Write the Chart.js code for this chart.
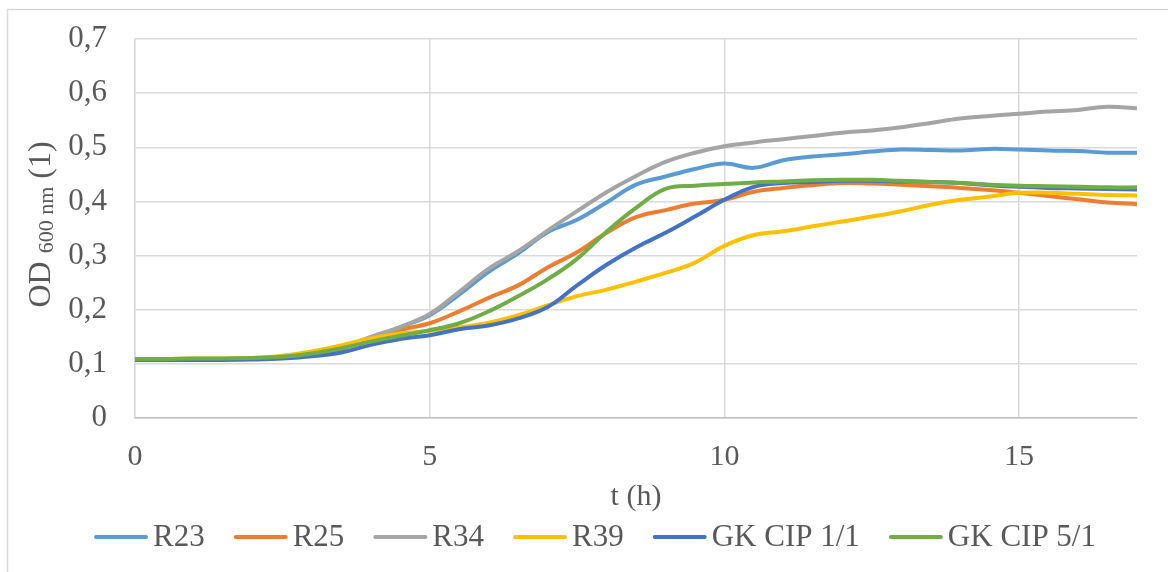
<!DOCTYPE html>
<html>
<head>
<meta charset="utf-8">
<script src="https://cdn.jsdelivr.net/npm/chart.js@4"></script>
<style>
  html, body { margin: 0; padding: 0; background: #fff; }
  #wrap { width: 1168px; height: 572px; }
</style>
</head>
<body>
<div id="wrap"><canvas id="growthChart" width="1168" height="572"></canvas></div>
<script>
// time points (h)
const timeH = [0, 0.5, 1, 1.5, 2, 2.5, 3, 3.5, 4, 4.5, 5, 5.5, 6, 6.5, 7, 7.5, 8, 8.5,
    9, 9.5, 10, 10.5, 11, 11.5, 12, 12.5, 13, 13.5, 14, 14.5, 15, 15.5, 16, 16.5, 17];

// OD600 readings per strain
const r23 = [0.108, 0.108, 0.109, 0.109, 0.110, 0.112, 0.118, 0.128, 0.148, 0.168, 0.190, 0.228,
    0.270, 0.304, 0.343, 0.366, 0.398, 0.431, 0.446, 0.460, 0.470, 0.462, 0.476, 0.483, 0.487,
    0.492, 0.496, 0.495, 0.494, 0.497, 0.496, 0.494, 0.493, 0.490, 0.490];
const r25 = [0.108, 0.108, 0.109, 0.109, 0.110, 0.112, 0.118, 0.128, 0.146, 0.163, 0.175, 0.197,
    0.222, 0.245, 0.278, 0.306, 0.342, 0.371, 0.384, 0.396, 0.403, 0.418, 0.425, 0.430, 0.434,
    0.433, 0.431, 0.428, 0.425, 0.421, 0.416, 0.410, 0.404, 0.398, 0.395];
const r34 = [0.108, 0.108, 0.109, 0.109, 0.110, 0.112, 0.118, 0.130, 0.150, 0.168, 0.192, 0.233,
    0.276, 0.308, 0.346, 0.382, 0.417, 0.447, 0.473, 0.490, 0.502, 0.509, 0.515, 0.521, 0.527,
    0.531, 0.537, 0.545, 0.553, 0.558, 0.562, 0.566, 0.569, 0.575, 0.572];
const r39 = [0.109, 0.109, 0.110, 0.110, 0.111, 0.115, 0.123, 0.134, 0.147, 0.156, 0.161, 0.167,
    0.176, 0.190, 0.208, 0.225, 0.237, 0.252, 0.268, 0.287, 0.318, 0.338, 0.345, 0.354, 0.363,
    0.372, 0.382, 0.394, 0.403, 0.409, 0.416, 0.416, 0.414, 0.412, 0.411];
const gkCip11 = [0.107, 0.107, 0.107, 0.107, 0.108, 0.110, 0.114, 0.121, 0.135, 0.146, 0.153, 0.164,
    0.171, 0.184, 0.205, 0.245, 0.283, 0.315, 0.342, 0.372, 0.403, 0.427, 0.434, 0.436, 0.438,
    0.438, 0.437, 0.436, 0.434, 0.430, 0.427, 0.425, 0.424, 0.423, 0.422];
const gkCip51 = [0.109, 0.109, 0.110, 0.110, 0.111, 0.113, 0.119, 0.129, 0.141, 0.152, 0.162, 0.175,
    0.197, 0.225, 0.256, 0.294, 0.344, 0.388, 0.423, 0.429, 0.432, 0.435, 0.437, 0.439, 0.440,
    0.440, 0.438, 0.436, 0.434, 0.431, 0.429, 0.428, 0.427, 0.426, 0.426];

const seriesNames = ["R23", "R25", "R34", "R39", "GK CIP 1/1", "GK CIP 5/1"];
const seriesValues = [r23, r25, r34, r39, gkCip11, gkCip51];
const seriesColors = ["#5B9BD5", "#ED7D31", "#A5A5A5", "#FFC000", "#4472C4", "#70AD47"];

const serif = "'Times New Roman', 'Liberation Serif', serif";
const textColor = "#595959";
const gridColor = "#D9D9D9";

Chart.defaults.font.family = serif;
Chart.defaults.color = textColor;

// white background + outer chart frame
const chartFrame = {
    id: "chartFrame",
    beforeDraw(chart) {
        const ctx = chart.ctx;
        ctx.save();
        ctx.fillStyle = "#fff";
        ctx.fillRect(0, 0, chart.width, chart.height);
        ctx.strokeStyle = gridColor;
        ctx.lineWidth = 1.5;
        ctx.strokeRect(7.5, 9.5, chart.width + 50, chart.height + 50);
        ctx.restore();
    }
};

// y title with subscript: OD 600 nm (1)
const yTitle = {
    id: "yTitle",
    afterDraw(chart) {
        const ctx = chart.ctx;
        const area = chart.chartArea;
        const parts = [
            { text: "OD ", size: 32, dy: 0 },
            { text: "600 nm", size: 22, dy: 3 },
            { text: " (1)", size: 32, dy: 0 }
        ];
        ctx.save();
        let total = 0;
        parts.forEach(p => {
            ctx.font = p.size + "px " + serif;
            p.w = ctx.measureText(p.text).width;
            total += p.w;
        });
        ctx.translate(50, (area.top + area.bottom) / 2 - 4);
        ctx.rotate(-Math.PI / 2);
        ctx.fillStyle = textColor;
        ctx.textBaseline = "alphabetic";
        let x = -total / 2;
        parts.forEach(p => {
            ctx.font = p.size + "px " + serif;
            ctx.fillText(p.text, x, p.dy);
            x += p.w;
        });
        ctx.restore();
    }
};

// legend drawn as line + label, Excel style
const lineLegend = {
    id: "lineLegend",
    afterDraw(chart) {
        const ctx = chart.ctx;
        const sets = chart.data.datasets;
        const lineLen = 54, textGap = 5, itemGap = 29;
        ctx.save();
        ctx.font = "31px " + serif;
        const widths = sets.map(ds => ctx.measureText(ds.label).width);
        let total = itemGap * (sets.length - 1);
        widths.forEach(w => total += lineLen + textGap + w);
        let x = 595 - total / 2;
        const y = 537;
        ctx.textBaseline = "middle";
        sets.forEach((ds, i) => {
            ctx.strokeStyle = ds.borderColor;
            ctx.lineWidth = 4;
            ctx.lineCap = "round";
            ctx.beginPath();
            ctx.moveTo(x + 2, y);
            ctx.lineTo(x + lineLen - 2, y);
            ctx.stroke();
            ctx.fillStyle = textColor;
            ctx.fillText(ds.label, x + lineLen + textGap, y + 1);
            x += lineLen + textGap + widths[i] + itemGap;
        });
        ctx.restore();
    }
};

const datasets = seriesNames.map((name, i) => ({
    label: name,
    data: seriesValues[i],
    borderColor: seriesColors[i],
    backgroundColor: seriesColors[i],
    borderWidth: 4,
    pointRadius: 0,
    tension: 0.4,
    fill: false,
    order: seriesNames.length - i
}));

new Chart(document.getElementById("growthChart"), {
    type: "line",
    data: { labels: timeH, datasets: datasets },
    options: {
        responsive: false,
        animation: false,
        layout: { padding: { left: 0, right: 31, top: 39, bottom: 0 } },
        plugins: {
            legend: { display: false },
            tooltip: { enabled: false }
        },
        scales: {
            x: {
                type: "linear",
                min: 0,
                max: 17,
                grid: { color: gridColor, lineWidth: 1.5, drawTicks: false },
                border: { color: "#BFBFBF", width: 1.5 },
                ticks: {
                    stepSize: 5,
                    includeBounds: false,
                    padding: 21,
                    font: { size: 30 },
                    color: textColor,
                    maxRotation: 0
                },
                title: {
                    display: true,
                    text: "t (h)",
                    font: { size: 30 },
                    color: textColor,
                    padding: { top: 0, bottom: 57 }
                },
                afterFit(scale) { scale.height = 154; }
            },
            y: {
                min: 0,
                max: 0.7,
                grid: { color: gridColor, lineWidth: 1.5, drawTicks: false },
                border: { color: gridColor, width: 1.5 },
                ticks: {
                    stepSize: 0.1,
                    padding: 28,
                    font: { size: 31 },
                    color: textColor,
                    callback: v => v === 0 ? "0" : v.toFixed(1).replace(".", ",")
                },
                afterFit(scale) {
                    scale.width = 135;
                    scale.paddingTop = 0;
                    scale.paddingBottom = 0;
                }
            }
        }
    },
    plugins: [chartFrame, yTitle, lineLegend]
});
</script>
</body>
</html>
